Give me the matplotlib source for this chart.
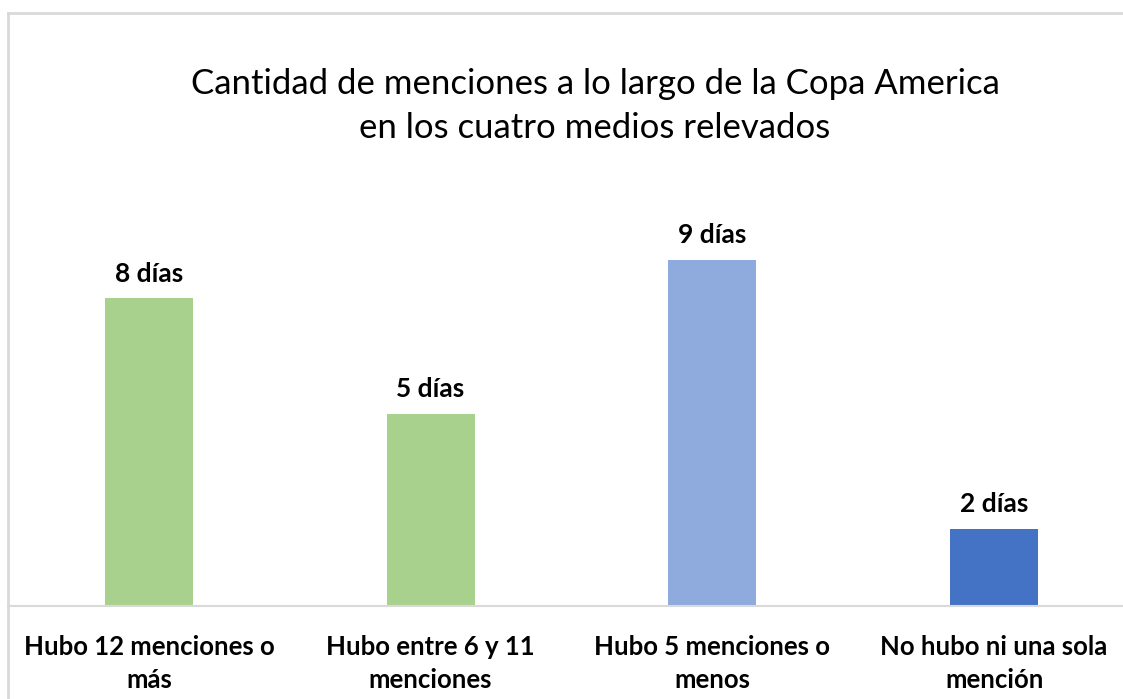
import matplotlib.pyplot as plt
from matplotlib.lines import Line2D

plt.rcParams['font.family'] = ['Lato', 'DejaVu Sans']

# Data
categories = ["Hubo 12 menciones o\nmás", "Hubo entre 6 y 11\nmenciones",
              "Hubo 5 menciones o\nmenos", "No hubo ni una sola\nmención"]
dias = [8, 5, 9, 2]
etiquetas = ["8 días", "5 días", "9 días", "2 días"]
colores = ["#A9D18E", "#A9D18E", "#8FAADC", "#4472C4"]

W, H = 1123, 699
fig = plt.figure(figsize=(W / 100, H / 100), dpi=100)

# chart frame (only top and left visible)
fig.add_artist(Line2D([8 / W, 8 / W], [0, 1 - 13 / H], color="#D9D9D9", lw=2))
fig.add_artist(Line2D([8 / W, 1], [1 - 13 / H, 1 - 13 / H], color="#D9D9D9", lw=2))

ax = fig.add_axes([8 / W, 93 / H, 1127 / W, 385 / H])
x = range(len(categories))
bars = ax.bar(x, dias, width=0.312, color=colores)

for b, txt in zip(bars, etiquetas):
    ax.annotate(txt, (b.get_x() + b.get_width() / 2, b.get_height()),
                xytext=(0, 9), textcoords="offset points",
                ha="center", va="bottom", fontsize=19, fontweight="bold")

ax.set_xlim(-0.5, 3.5)
ax.set_ylim(0, 10)
ax.set_xticks(list(x))
ax.set_xticklabels(categories, fontsize=18.5, fontweight="bold",
                   linespacing=1.45, multialignment="center")
ax.tick_params(axis="x", length=0, pad=21)
ax.set_yticks([])
for s in ["top", "right", "left"]:
    ax.spines[s].set_visible(False)
ax.spines["bottom"].set_color("#D9D9D9")
ax.spines["bottom"].set_linewidth(1.5)

fig.text(595 / W, 1 - 106 / H,
         "Cantidad de menciones a lo largo de la Copa America\nen los cuatro medios relevados",
         ha="center", va="center", fontsize=25, linespacing=1.45)

fig.savefig("out.png", dpi=100)
